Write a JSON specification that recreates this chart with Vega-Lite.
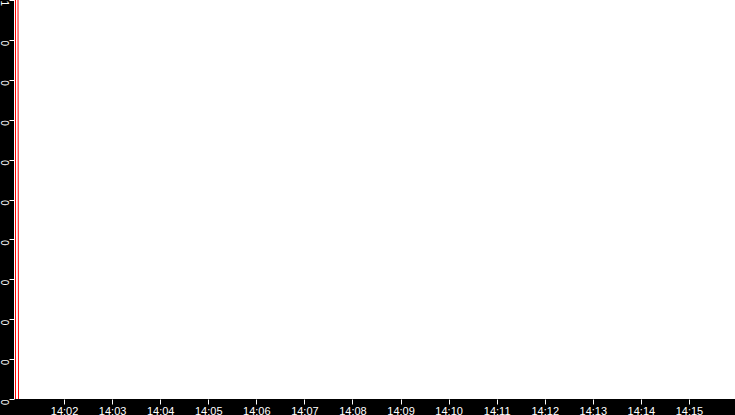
{
  "$schema": "https://vega.github.io/schema/vega-lite/v6.json",
  "width": 721,
  "height": 399,
  "autosize": {"type": "none"},
  "padding": {"left": 14, "top": 0, "right": 0, "bottom": 16},
  "background": "black",
  "config": {
    "view": {"fill": "white", "stroke": null},
    "axis": {"labelFont": "Liberation Sans", "labelColor": "white", "tickColor": "white", "domain": false, "grid": false, "title": null}
  },
  "data": {
    "values": [
      {"time": 1704117659372, "value": 0, "seg": "a"},
      {"time": 1704117659372, "value": 1, "seg": "a"},
      {"time": 1704117662493, "value": 1, "seg": "b"},
      {"time": 1704117663117, "value": 0, "seg": "b"}
    ]
  },
  "mark": {"type": "line", "color": "#ff0000", "strokeWidth": 1},
  "encoding": {
    "x": {
      "field": "time",
      "type": "temporal",
      "scale": {"type": "utc", "domain": [1704117657500, 1704118557500], "nice": false},
      "axis": {
        "labelExpr": "utcFormat(datum.value, '%H:%M')",
        "values": [1704117720000, 1704117780000, 1704117840000, 1704117900000, 1704117960000, 1704118020000, 1704118080000, 1704118140000, 1704118200000, 1704118260000, 1704118320000, 1704118380000, 1704118440000, 1704118500000],
        "tickSize": 5,
        "labelFontSize": 11,
        "labelPadding": 1,
        "labelFlush": false,
        "labelOverlap": false
      }
    },
    "y": {
      "field": "value",
      "type": "quantitative",
      "scale": {"domain": [0, 1], "nice": false},
      "axis": {
        "values": [0, 0.1, 0.2, 0.3, 0.4, 0.5, 0.6, 0.7, 0.8, 0.9, 1],
        "labelExpr": "datum.value >= 1 ? '1' : '0'",
        "labelAngle": 90,
        "labelAlign": "left",
        "labelBaseline": "top",
        "tickSize": 5,
        "labelPadding": 1,
        "labelFontSize": 10,
        "labelFlush": false,
        "labelOverlap": false
      }
    },
    "detail": {"field": "seg"}
  }
}
